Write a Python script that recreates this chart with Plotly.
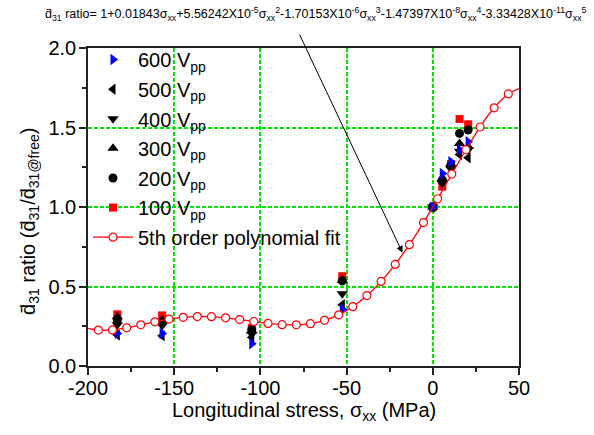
import plotly.graph_objects as go

# ---- data ----
stress = [-183, -157, -105, -52.5, 0, 5.5, 10.5, 15.5, 20.5]
v600 = [0.205, 0.205, 0.14, 0.355, 1.0, 1.21, 1.285, 1.36, 1.41]
v500 = [0.195, 0.19, 0.18, 0.385, 1.0, 1.16, 1.25, 1.33, 1.31]
v400 = [0.26, 0.255, 0.20, 0.455, 1.0, 1.15, 1.24, 1.35, 1.36]
v300 = [0.31, 0.29, 0.22, 0.54, 1.0, 1.18, 1.27, 1.40, 1.38]
v200 = [0.29, 0.27, 0.23, 0.535, 1.0, 1.17, 1.26, 1.463, 1.484]
v100 = [0.325, 0.318, 0.24, 0.565, 1.0, 1.128, 1.27, 1.553, 1.52]

fit_x = [-194.0, -185.8, -177.6, -169.4, -161.2, -153.0, -144.8, -136.6, -128.4,
         -120.2, -112.0, -103.8, -95.6, -87.4, -79.2, -71.0, -62.8, -54.6, -46.4,
         -38.2, -30.0, -21.8, -13.6, -5.4, 2.8, 11.0, 19.2, 27.4, 35.6, 43.8]
fit_y = [0.226, 0.227, 0.240, 0.259, 0.278, 0.295, 0.306, 0.311, 0.310,
         0.303, 0.292, 0.280, 0.268, 0.260, 0.259, 0.266, 0.287, 0.322, 0.373,
         0.443, 0.532, 0.639, 0.763, 0.902, 1.052, 1.207, 1.360, 1.503, 1.624, 1.711]
fit_line_x = [-200.0] + fit_x + [50.0]
fit_line_y = [0.237] + fit_y + [1.745]

x_ticks = [-200, -150, -100, -50, 0, 50]
y_ticks = [0.0, 0.5, 1.0, 1.5, 2.0]

FONT = "Liberation Sans, Arial, sans-serif"
GRID = "#00e400"
AX = "#222222"

series = [
    ("600 V<sub>pp</sub>", v600, "triangle-right", "#0000ff", 10, 1),
    ("500 V<sub>pp</sub>", v500, "triangle-left", "#000000", 10, 2),
    ("400 V<sub>pp</sub>", v400, "triangle-down", "#000000", 10, 3),
    ("300 V<sub>pp</sub>", v300, "triangle-up", "#000000", 10, 4),
    ("200 V<sub>pp</sub>", v200, "circle", "#000000", 9, 5),
    ("100 V<sub>pp</sub>", v100, "square", "#ff0000", 8, 6),
]

fig = go.Figure()
for name, vals, sym, col, sz, rank in reversed(series):
    fig.add_trace(go.Scatter(
        x=stress, y=vals, mode="markers", name=name,
        marker=dict(symbol=sym, color=col, size=sz, line=dict(width=0)),
        legendrank=rank, legendgroup=name,
    ))

fig.add_trace(go.Scatter(
    x=fit_line_x, y=fit_line_y, mode="lines", line=dict(color="#ff0000", width=1.3, shape="spline"),
    showlegend=False, hoverinfo="skip"))
fig.add_trace(go.Scatter(
    x=fit_x, y=fit_y, mode="markers",
    marker=dict(symbol="circle", size=8, color="white", line=dict(color="#ff0000", width=1.2)),
    showlegend=False))
fig.add_trace(go.Scatter(
    x=[None], y=[None], mode="lines+markers", name="5th order polynomial fit<sub> </sub>",
    line=dict(color="#ff0000", width=1.3),
    marker=dict(symbol="circle", size=8, color="white", line=dict(color="#ff0000", width=1.2)),
    legendrank=7, legendgroup="fit"))

axis_common = dict(
    showline=True, linecolor=AX, linewidth=1.5, mirror=True,
    ticks="outside", ticklen=7, tickwidth=1.5, tickcolor=AX,
    showgrid=True, gridcolor=GRID, gridwidth=1.5, griddash="4px,2px",
    zeroline=False, tickfont=dict(family=FONT, size=20, color="#000"),
)

fig.update_xaxes(range=[-200, 50], tickvals=x_ticks, ticktext=[str(v) for v in x_ticks],
                 ticklabelstandoff=-4,
                 minor=dict(ticks="outside", ticklen=4, tickwidth=1.5, tickcolor=AX,
                            dtick=25, showgrid=False, gridcolor=GRID, griddash="4px,2px"),
                 **axis_common)
fig.update_yaxes(range=[0, 2], tickvals=y_ticks, ticktext=[f"{v:.1f}" for v in y_ticks],
                 ticklabelstandoff=-1,
                 minor=dict(ticks="outside", ticklen=4, tickwidth=1.5, tickcolor=AX,
                            dtick=0.25, showgrid=False, gridcolor=GRID, griddash="4px,2px"),
                 **axis_common)

eq = ("d\u0304<sub>31</sub> ratio= 1+0.01843σ<sub>xx</sub>+5.56242X10<sup>-5</sup>σ<sub>xx</sub><sup>2</sup>"
      "-1.70153X10<sup>-6</sup>σ<sub>xx</sub><sup>3</sup>-1.47397X10<sup>-8</sup>σ<sub>xx</sub><sup>4</sup>"
      "-3.33428X10<sup>-11</sup>σ<sub>xx</sub><sup>5</sup>")

fig.update_layout(
    width=594, height=435,
    margin=dict(l=88, r=75, t=48, b=69),
    paper_bgcolor="white", plot_bgcolor="white",
    font=dict(family=FONT, size=20, color="#000"),
    showlegend=True,
    legend=dict(x=0.0, y=1.025, xanchor="left", yanchor="top", bgcolor="rgba(0,0,0,0)",
                font=dict(family=FONT, size=20), itemwidth=40, tracegroupgap=0.6,
                traceorder="grouped"),
    annotations=[
        dict(text=eq, x=0.5174, y=1, xref="paper", yref="paper", yshift=34, xshift=5,
             xanchor="center", yanchor="middle", showarrow=False,
             font=dict(family=FONT, size=12.5)),
        dict(text="", x=-17.6, y=0.713, xref="x", yref="y",
             ax=-77.7, ay=2.094, axref="x", ayref="y",
             showarrow=True, arrowhead=2, arrowsize=1.3, arrowwidth=1, arrowcolor="#000"),
        dict(text="Longitudinal stress, σ<sub>xx</sub> (MPa)", x=0.5, y=0, xref="paper", yref="paper",
             yshift=-45, xanchor="center", yanchor="middle", showarrow=False,
             font=dict(family=FONT, size=20)),
        dict(text="d\u0304<sub>31</sub> ratio (d\u0304<sub>31</sub>/d\u0304<sub>31@free</sub>)",
             x=0, y=0.453, xref="paper", yref="paper", xshift=-58, textangle=-90,
             xanchor="center", yanchor="middle", showarrow=False,
             font=dict(family=FONT, size=20)),
    ],
)

fig.write_html("out.html", post_script="document.body.style.margin='0';",
               config={"displayModeBar": False})
